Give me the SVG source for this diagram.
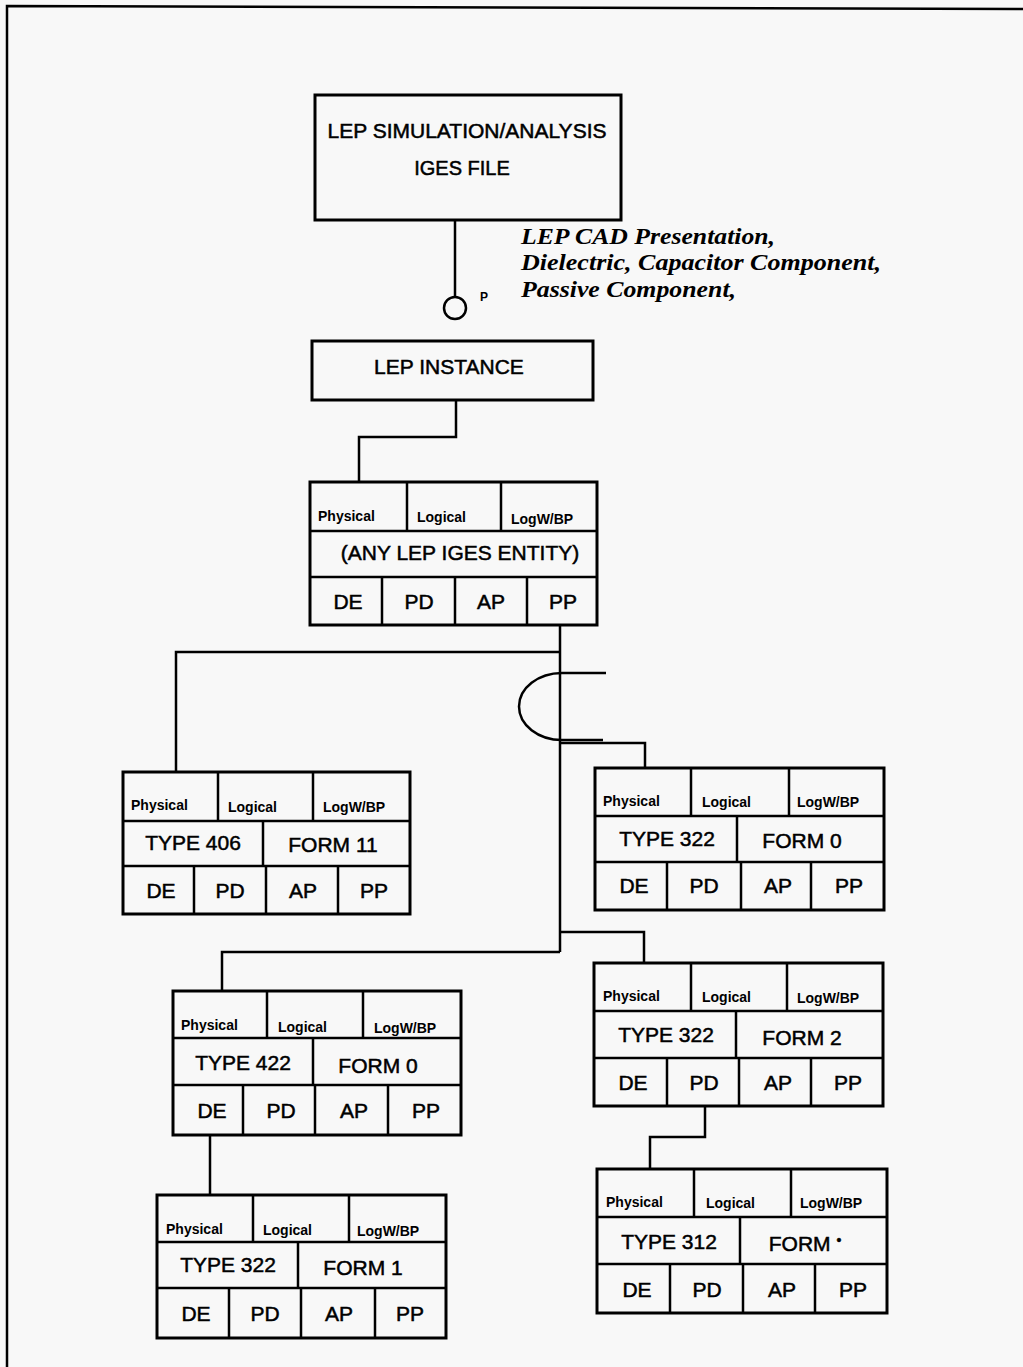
<svg xmlns="http://www.w3.org/2000/svg" width="1023" height="1367" viewBox="0 0 1023 1367">
<style>
.bx{fill:none;stroke:#000;stroke-width:3}
.dv{fill:none;stroke:#000;stroke-width:2.5}
.ln{fill:none;stroke:#000;stroke-width:2.5}
.t{font-family:"Liberation Sans",Arial,sans-serif;font-size:21px;fill:#000;stroke:#000;stroke-width:0.5;text-anchor:middle}
.s{font-family:"Liberation Sans",Arial,sans-serif;font-size:14px;font-weight:bold;fill:#000}
.it{font-family:"Liberation Serif","Times New Roman",serif;font-size:23px;font-style:italic;font-weight:bold;fill:#000}
</style>
<rect x="0" y="0" width="1023" height="1367" fill="#f8f8f8"/>
<path d="M7 1367 V6 L1023 9" fill="none" stroke="#000" stroke-width="2.5"/>

<g id="iges-file">
<rect class="bx" x="315" y="95" width="306" height="125"/>
<text class="t" x="467" y="138" style="font-size:20px" textLength="279" lengthAdjust="spacingAndGlyphs">LEP SIMULATION/ANALYSIS</text>
<text class="t" x="462" y="175" style="font-size:20px">IGES FILE</text>
</g>

<g id="label-text">
<text class="it" x="521" y="244" textLength="254" lengthAdjust="spacingAndGlyphs">LEP CAD Presentation,</text>
<text class="it" x="521" y="270" textLength="360" lengthAdjust="spacingAndGlyphs">Dielectric, Capacitor Component,</text>
<text class="it" x="521" y="297" textLength="215" lengthAdjust="spacingAndGlyphs">Passive Component,</text>
<text x="480" y="301" style="font-family:'Liberation Sans',Arial,sans-serif;font-size:12px;font-weight:bold">P</text>
</g>

<g id="lep-instance">
<rect class="bx" x="312" y="341" width="281" height="59"/>
<text class="t" x="449" y="374">LEP INSTANCE</text>
</g>

<g id="connectors">
<path class="ln" d="M455 220 V297"/>
<circle cx="455" cy="308" r="11" fill="none" stroke="#000" stroke-width="2.5"/>
<path class="ln" d="M456 400 V437 H359 V482"/>
<path class="ln" d="M560 625 V952"/>
<path class="ln" d="M560 652 H176 V772"/>
<path class="ln" d="M606 673 H562 A43 33.5 0 0 0 562 740 H603"/>
<path class="ln" d="M560 743 H645 V768"/>
<path class="ln" d="M560 952 H222 V991"/>
<path class="ln" d="M560 932 H644 V963"/>
<path class="ln" d="M210 1135 V1195"/>
<path class="ln" d="M705 1106 V1137 H650 V1169"/>
</g>

<g id="any-entity">
<rect class="bx" x="310" y="482" width="287" height="143"/>
<path class="dv" d="M310 531 H597 M310 577 H597 M407 482 V531 M501 482 V531 M382 577 V625 M455 577 V625 M527 577 V625"/>
<text class="s" x="318" y="521">Physical</text>
<text class="s" x="417" y="522">Logical</text>
<text class="s" x="511" y="524">LogW/BP</text>
<text class="t" x="460" y="560">(ANY LEP IGES ENTITY)</text>
<text class="t" x="348" y="609">DE</text>
<text class="t" x="419" y="609">PD</text>
<text class="t" x="491" y="609">AP</text>
<text class="t" x="563" y="609">PP</text>
</g>

<g id="type406">
<rect class="bx" x="123" y="772" width="287" height="142"/>
<path class="dv" d="M123 821 H410 M123 866 H410 M218 772 V821 M313 772 V821 M263 821 V866 M194 866 V914 M266 866 V914 M338 866 V914"/>
<text class="s" x="131" y="810">Physical</text>
<text class="s" x="228" y="812">Logical</text>
<text class="s" x="323" y="812">LogW/BP</text>
<text class="t" x="193" y="850">TYPE 406</text>
<text class="t" x="333" y="852">FORM 11</text>
<text class="t" x="161" y="898">DE</text>
<text class="t" x="230" y="898">PD</text>
<text class="t" x="303" y="898">AP</text>
<text class="t" x="374" y="898">PP</text>
</g>

<g id="type322-form0">
<rect class="bx" x="595" y="768" width="289" height="142"/>
<path class="dv" d="M595 816 H884 M595 862 H884 M691 768 V816 M789 768 V816 M737 816 V862 M667 862 V910 M741 862 V910 M811 862 V910"/>
<text class="s" x="603" y="806">Physical</text>
<text class="s" x="702" y="807">Logical</text>
<text class="s" x="797" y="807">LogW/BP</text>
<text class="t" x="667" y="846">TYPE 322</text>
<text class="t" x="802" y="848">FORM 0</text>
<text class="t" x="634" y="893">DE</text>
<text class="t" x="704" y="893">PD</text>
<text class="t" x="778" y="893">AP</text>
<text class="t" x="849" y="893">PP</text>
</g>

<g id="type422">
<rect class="bx" x="173" y="991" width="288" height="144"/>
<path class="dv" d="M173 1038 H461 M173 1085 H461 M267 991 V1038 M363 991 V1038 M313 1038 V1085 M243 1085 V1135 M315 1085 V1135 M388 1085 V1135"/>
<text class="s" x="181" y="1030">Physical</text>
<text class="s" x="278" y="1032">Logical</text>
<text class="s" x="374" y="1033">LogW/BP</text>
<text class="t" x="243" y="1070">TYPE 422</text>
<text class="t" x="378" y="1073">FORM 0</text>
<text class="t" x="212" y="1118">DE</text>
<text class="t" x="281" y="1118">PD</text>
<text class="t" x="354" y="1118">AP</text>
<text class="t" x="426" y="1118">PP</text>
</g>

<g id="type322-form1">
<rect class="bx" x="157" y="1195" width="289" height="143"/>
<path class="dv" d="M157 1242 H446 M157 1288 H446 M253 1195 V1242 M349 1195 V1242 M298 1242 V1288 M229 1288 V1338 M301 1288 V1338 M375 1288 V1338"/>
<text class="s" x="166" y="1234">Physical</text>
<text class="s" x="263" y="1235">Logical</text>
<text class="s" x="357" y="1236">LogW/BP</text>
<text class="t" x="228" y="1272">TYPE 322</text>
<text class="t" x="363" y="1275">FORM 1</text>
<text class="t" x="196" y="1321">DE</text>
<text class="t" x="265" y="1321">PD</text>
<text class="t" x="339" y="1321">AP</text>
<text class="t" x="410" y="1321">PP</text>
</g>

<g id="type322-form2">
<rect class="bx" x="594" y="963" width="289" height="143"/>
<path class="dv" d="M594 1011 H883 M594 1058 H883 M691 963 V1011 M787 963 V1011 M736 1011 V1058 M667 1058 V1106 M739 1058 V1106 M811 1058 V1106"/>
<text class="s" x="603" y="1001">Physical</text>
<text class="s" x="702" y="1002">Logical</text>
<text class="s" x="797" y="1003">LogW/BP</text>
<text class="t" x="666" y="1042">TYPE 322</text>
<text class="t" x="802" y="1045">FORM 2</text>
<text class="t" x="633" y="1090">DE</text>
<text class="t" x="704" y="1090">PD</text>
<text class="t" x="778" y="1090">AP</text>
<text class="t" x="848" y="1090">PP</text>
</g>

<g id="type312">
<rect class="bx" x="597" y="1169" width="290" height="144"/>
<path class="dv" d="M597 1217 H887 M597 1264 H887 M694 1169 V1217 M791 1169 V1217 M740 1217 V1264 M670 1264 V1313 M743 1264 V1313 M815 1264 V1313"/>
<text class="s" x="606" y="1207">Physical</text>
<text class="s" x="706" y="1208">Logical</text>
<text class="s" x="800" y="1208">LogW/BP</text>
<text class="t" x="669" y="1249">TYPE 312</text>
<text class="t" x="805" y="1251">FORM <tspan dy="-6" style="font-size:14px">•</tspan></text>
<text class="t" x="637" y="1297">DE</text>
<text class="t" x="707" y="1297">PD</text>
<text class="t" x="782" y="1297">AP</text>
<text class="t" x="853" y="1297">PP</text>
</g>
</svg>
